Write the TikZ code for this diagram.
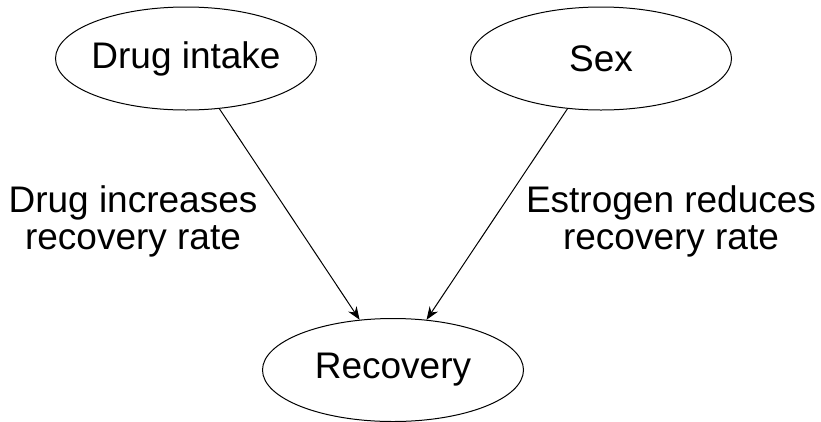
\documentclass[tikz,border=0pt]{standalone}
\usepackage{fontspec}
\setmainfont{Liberation Sans}
\usetikzlibrary{shapes.geometric, arrows.meta}

\begin{document}
\begin{tikzpicture}[x=1pt, y=-1pt,
    factor/.style={ellipse, draw, line width=1pt, minimum width=261pt,
      minimum height=103pt, inner xsep=-6pt, inner ysep=0pt,
      font=\fontsize{37}{37}\selectfont},
    effect/.style={align=center, inner sep=0pt,
      font=\fontsize{37}{37}\selectfont},
    cause/.style={-{Stealth[length=13pt, width=10pt]}, line width=1pt}]
  \useasboundingbox (0,0) rectangle (821,421);

  % === NODES ===
  \node[factor] (drug) at (186,58.5) {Drug intake};
  \node[factor] (sex) at (601,58.5) {Sex};
  \node[factor] (recovery) at (393,370) {Recovery};

  % === EFFECT LABELS ===
  \node[effect] (drugeffect) at (133,221) {Drug increases\\recovery rate};
  \node[effect] (sexeffect) at (671,221) {Estrogen reduces\\recovery rate};

  % === CAUSAL ARROWS ===
  \draw[cause] (drug) -- (recovery);
  \draw[cause] (sex) -- (recovery);
\end{tikzpicture}
\end{document}
